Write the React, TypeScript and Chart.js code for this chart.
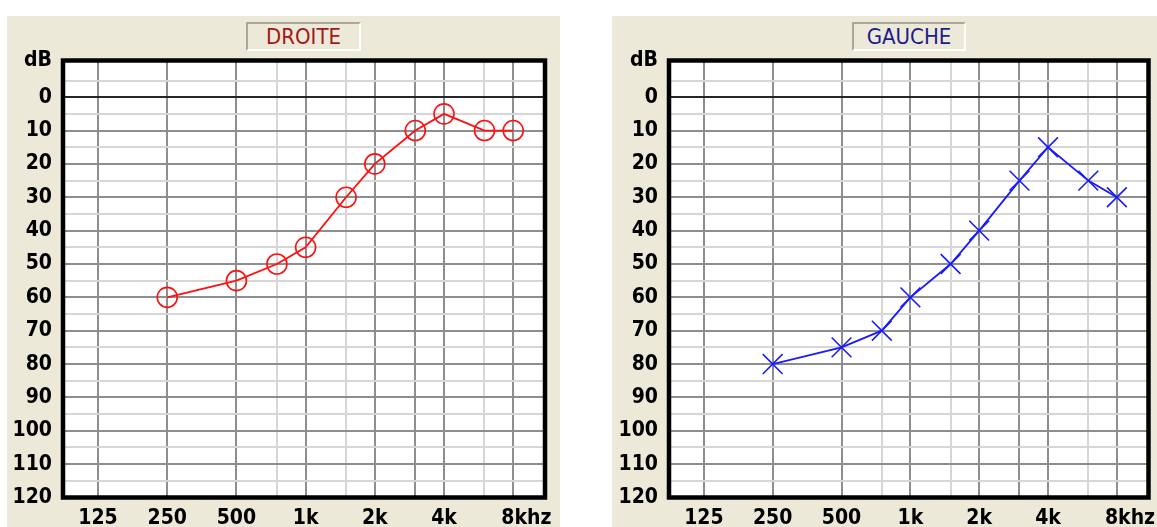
import React, { useEffect, useRef } from "react";
import { Chart, registerables } from "chart.js";

Chart.register(...registerables);

// ---- data ----
const FREQUENCIES = [250, 500, 750, 1000, 1500, 2000, 3000, 4000, 6000, 8000];
const RIGHT_EAR_DB = [60, 55, 50, 45, 30, 20, 10, 5, 10, 10]; // DROITE
const LEFT_EAR_DB = [80, 75, 70, 60, 50, 40, 25, 15, 25, 30]; // GAUCHE
const X_TICKS = [125, 250, 500, 750, 1000, 1500, 2000, 3000, 4000, 6000, 8000];
const X_TICK_LABELS = ["125", "250", "500", "", "1k", "", "2k", "", "4k", "", "    8khz"];
const X_MAJOR = [125, 250, 500, 1000, 2000, 3000, 4000, 8000];
const Y_TICKS = [-11, -5, 0, 5, 10, 15, 20, 25, 30, 35, 40, 45, 50, 55, 60, 65, 70, 75, 80, 85, 90, 95, 100, 105, 110, 115, 120];
const Y_TOP_LABEL = "dB";

const BEIGE = "#ECE9D8";
const LABEL_FONT = "'DejaVu Sans Condensed', 'DejaVu Sans', sans-serif";

type PanelProps = {
  left: number;
  width: number;
  axisWidth: number;
  padRight: number;
  values: number[];
  color: string;
  pointStyle: string;
  pointRadius: number;
  lineWidth: number;
};

const framePlugin = {
  id: "frame",
  beforeDraw(chart: any) {
    const { ctx, chartArea: a } = chart;
    ctx.save();
    ctx.fillStyle = "#ffffff";
    ctx.fillRect(a.left, a.top, a.right - a.left, a.bottom - a.top);
    ctx.restore();
  },
  afterDraw(chart: any) {
    const { ctx, chartArea: a } = chart;
    ctx.save();
    ctx.strokeStyle = "#000000";
    ctx.lineWidth = 4.5;
    ctx.strokeRect(a.left, a.top, a.right - a.left, a.bottom - a.top);
    ctx.restore();
  },
};

function Panel(p: PanelProps) {
  const ref = useRef<HTMLCanvasElement>(null);
  useEffect(() => {
    if (!ref.current) return;
    const chart = new Chart(ref.current, {
      type: "line",
      data: {
        datasets: [
          {
            data: FREQUENCIES.map((f, i) => ({ x: f, y: p.values[i] })),
            borderColor: p.color,
            borderWidth: p.lineWidth,
            pointStyle: p.pointStyle as any,
            pointRadius: p.pointRadius,
            pointBorderWidth: 1.6,
            pointBorderColor: p.color,
            pointBackgroundColor: "rgba(0,0,0,0)",
            fill: false,
            tension: 0,
          },
        ],
      },
      options: {
        animation: false,
        responsive: false,
        maintainAspectRatio: false,
        events: [],
        layout: { padding: { left: 0, top: 60.5, right: p.padRight, bottom: 0 } },
        plugins: { legend: { display: false }, tooltip: { enabled: false } },
        scales: {
          x: {
            type: "logarithmic",
            min: 88,
            max: 11000,
            afterBuildTicks: (s: any) => {
              s.ticks = X_TICKS.map((v) => ({ value: v }));
            },
            afterFit: (s: any) => {
              s.height = 29.5;
            },
            border: { display: false },
            grid: {
              drawTicks: false,
              lineWidth: 2,
              color: (c: any) => (X_MAJOR.includes(c.tick?.value) ? "#8e8e8e" : "#d6d6d6"),
            },
            ticks: {
              autoSkip: false,
              maxRotation: 0,
              minRotation: 0,
              padding: 8,
              color: "#000000",
              font: { family: LABEL_FONT, size: 21, weight: "bold" },
              callback: (_v: any, i: number) => X_TICK_LABELS[i],
            },
          },
          y: {
            type: "linear",
            reverse: true,
            min: -11,
            max: 120,
            afterBuildTicks: (s: any) => {
              s.ticks = Y_TICKS.map((v) => ({ value: v }));
            },
            afterFit: (s: any) => {
              s.width = p.axisWidth;
            },
            border: { display: false },
            grid: {
              drawTicks: false,
              lineWidth: 2,
              color: (c: any) => {
                const v = c.tick?.value;
                if (v === -11) return "rgba(0,0,0,0)";
                if (v === 0) return "#262626";
                if (v % 10 === 0) return "#8e8e8e";
                return "#d6d6d6";
              },
            },
            ticks: {
              autoSkip: false,
              padding: 11,
              color: "#000000",
              font: { family: LABEL_FONT, size: 21, weight: "bold" },
              callback: (v: any) => {
                if (v === -11) return Y_TOP_LABEL;
                if (v % 10 === 0) return String(v);
                return "";
              },
            },
          },
        },
      },
      plugins: [framePlugin],
    } as any);
    return () => chart.destroy();
  }, []);
  return (
    <canvas
      ref={ref}
      width={p.width}
      height={527}
      style={{ position: "absolute", left: p.left, top: 0, width: p.width, height: 527 }}
    />
  );
}

function TitleBox(props: { left: number; width: number; text: string; color: string }) {
  return (
    <div
      style={{
        position: "absolute",
        left: props.left,
        top: 22,
        width: props.width,
        height: 25,
        borderStyle: "solid",
        borderWidth: "2px",
        borderColor: "#aca899 #ffffff #ffffff #aca899",
        background: BEIGE,
        color: props.color,
        fontFamily: "'DejaVu Sans Condensed', 'DejaVu Sans', sans-serif",
        fontSize: 22,
        lineHeight: "26px",
        textAlign: "center",
        boxSizing: "content-box",
      }}
    >
      {props.text}
    </div>
  );
}

export default function App() {
  return (
    <div
      style={{
        position: "fixed",
        left: 0,
        top: 0,
        width: 1157,
        height: 527,
        overflow: "hidden",
        background: "#ffffff",
      }}
    >
      <div style={{ position: "absolute", left: 7, top: 16, width: 553, height: 511, background: BEIGE }} />
      <div style={{ position: "absolute", left: 612, top: 16, width: 545, height: 511, background: BEIGE }} />
      <TitleBox left={246} width={111} text="DROITE" color="#a31818" />
      <TitleBox left={852} width={110} text="GAUCHE" color="#1c1c8c" />
      <Panel
        left={0}
        width={580}
        axisWidth={63}
        padRight={35}
        values={RIGHT_EAR_DB}
        color="#ff1010"
        pointStyle="circle"
        pointRadius={10}
        lineWidth={1.8}
      />
      <Panel
        left={580}
        width={620}
        axisWidth={89}
        padRight={51.5}
        values={LEFT_EAR_DB}
        color="#1a1aff"
        pointStyle="crossRot"
        pointRadius={14}
        lineWidth={1.8}
      />
    </div>
  );
}
